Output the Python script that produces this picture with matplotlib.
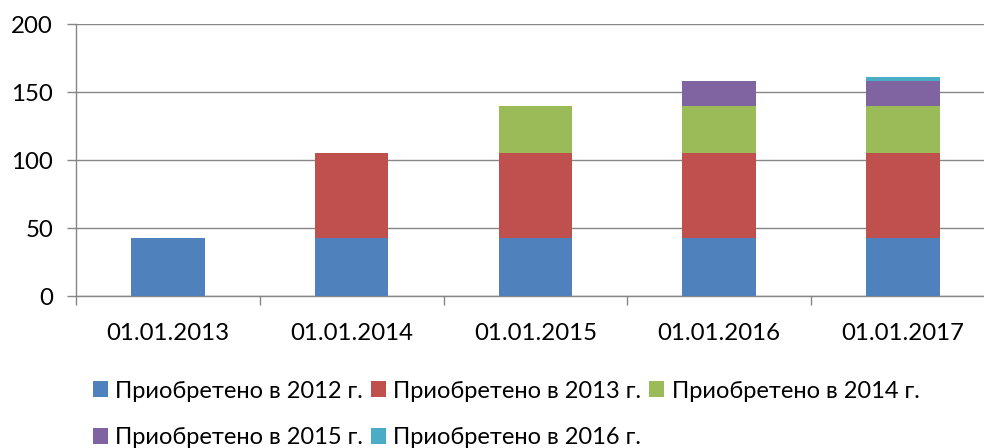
import matplotlib
matplotlib.use("Agg")
import matplotlib.pyplot as plt
import numpy as np

categories = ["01.01.2013", "01.01.2014", "01.01.2015", "01.01.2016", "01.01.2017"]
series_names = ["Приобретено в 2012 г.", "Приобретено в 2013 г.", "Приобретено в 2014 г.",
                "Приобретено в 2015 г.", "Приобретено в 2016 г."]
bought_2012 = [42.6, 42.6, 42.6, 42.6, 42.6]
bought_2013 = [0, 63.0, 63.0, 63.0, 63.0]
bought_2014 = [0, 0, 34.3, 34.3, 34.3]
bought_2015 = [0, 0, 0, 17.9, 17.9]
bought_2016 = [0, 0, 0, 0, 3.4]
colors = ["#4F81BD", "#C0504D", "#9BBB59", "#8064A2", "#4BACC6"]
yticks = [0, 50, 100, 150, 200]

plt.rcParams['font.family'] = ['Lato', 'DejaVu Sans']
FS = 17.3
LFS = 17
GRID = "#868686"

fig = plt.figure(figsize=(9.84, 4.48), dpi=100)
ax = fig.add_axes([76/984, (448-296.4)/448, 918.75/984, (296.4-24)/448])

x = np.arange(len(categories))
bottom = np.zeros(len(categories))
handles = []
for name, vals, c in zip(series_names,
                         [bought_2012, bought_2013, bought_2014, bought_2015, bought_2016],
                         colors):
    vals = np.array(vals, dtype=float)
    h = ax.bar(x, vals, width=0.4, bottom=bottom, color=c, label=name, linewidth=0, zorder=3)
    handles.append(h)
    bottom += vals

ax.set_xlim(-0.5, len(categories) - 0.5)
ax.set_ylim(0, 200)
ax.set_yticks(yticks)
ax.set_yticklabels([str(v) for v in yticks], fontsize=FS)
ax.set_xticks(x)
ax.set_xticklabels(categories, fontsize=FS)
ax.set_xticks(np.arange(-0.5, len(categories), 1.0), minor=True)
ax.tick_params(axis='x', which='major', length=0, pad=19)
ax.tick_params(axis='x', which='minor', length=6.5, width=1, color=GRID, direction='out')
ax.tick_params(axis='y', which='major', length=6.5, width=1, color=GRID, direction='out', pad=10)

ax.yaxis.grid(True, color=GRID, linewidth=1, zorder=0)
ax.set_axisbelow(True)
for s in ['top', 'right']:
    ax.spines[s].set_visible(False)
for s in ['left', 'bottom']:
    ax.spines[s].set_color(GRID)
    ax.spines[s].set_linewidth(1)

order = [0, 3, 1, 4, 2]
leg = fig.legend([handles[i] for i in order], [series_names[i] for i in order],
                 ncol=3, loc='center', bbox_to_anchor=(506/984, 33.5/448),
                 frameon=False, fontsize=LFS, handlelength=0.64, handleheight=0.64,
                 handletextpad=0.33, columnspacing=0.3, labelspacing=1.1, borderpad=0)

fig.savefig("out.png", dpi=100)
